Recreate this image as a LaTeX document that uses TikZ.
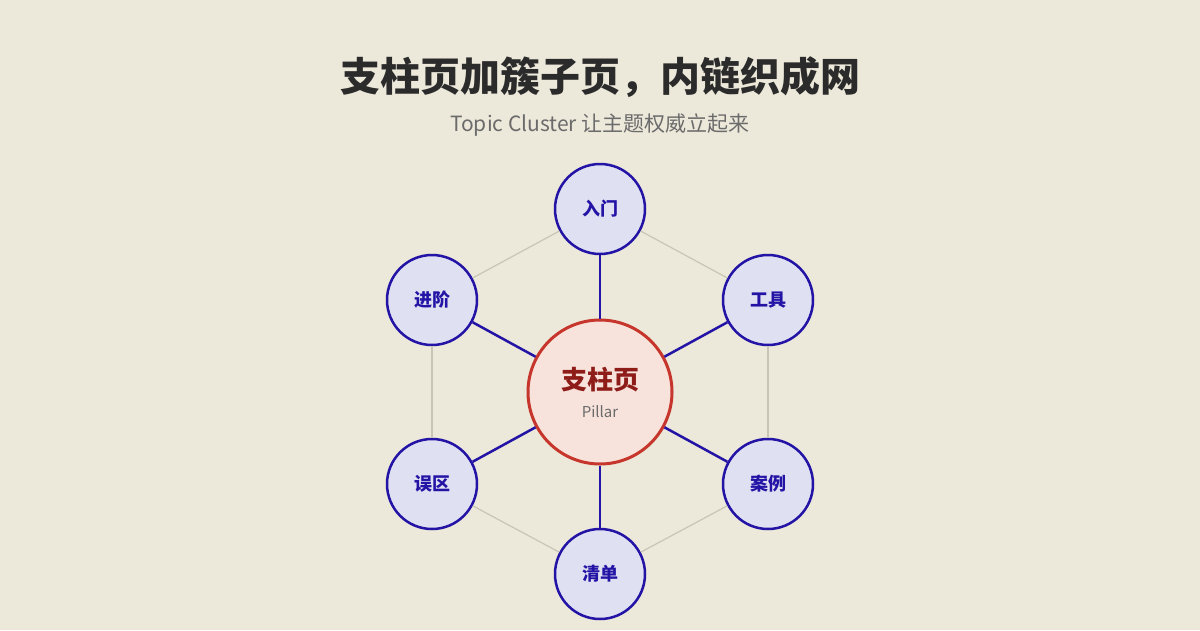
\documentclass[tikz,border=0pt]{standalone}
\usepackage{fontspec}
\setmainfont{Noto Sans CJK SC}
\definecolor{bg}{HTML}{ECE8DA}
\definecolor{ofill}{HTML}{DFE0F1}
\definecolor{ostroke}{HTML}{2314A6}
\definecolor{cfill}{HTML}{F8E3DC}
\definecolor{cstroke}{HTML}{C7362C}
\definecolor{ctext}{HTML}{8E1C18}
\definecolor{hexc}{HTML}{C9C5B6}
\definecolor{sub}{HTML}{6B6B6B}
\definecolor{ttl}{HTML}{2B2B2B}
\begin{document}
\begin{tikzpicture}[x=1pt,y=-1pt,
  outer/.style={circle,draw=ostroke,fill=ofill,line width=2.5pt,minimum size=90pt,inner sep=0pt,text=ostroke,font=\fontsize{18}{21}\selectfont\bfseries},
  spoke/.style={draw=ostroke,line width=2.5pt},
  hexl/.style={draw=hexc,line width=1.2pt}]
\fill[bg] (0,0) rectangle (1200,630);
\useasboundingbox (0,0) rectangle (1200,630);
\node[text=ttl,font=\fontsize{40}{44}\selectfont\bfseries] (title) at (600,77) {支柱页加簇子页，内链织成网};
\node[text=sub,font=\fontsize{21}{24}\selectfont] (subtitle) at (600,125) {Topic Cluster 让主题权威立起来};
\node[outer] (a) at (600,209) {入门};
\node[outer] (b) at (768,300) {工具};
\node[outer] (c) at (768,484) {案例};
\node[outer] (d) at (600,574) {清单};
\node[outer] (e) at (432,484) {误区};
\node[outer] (f) at (432,300) {进阶};
\node[circle,draw=cstroke,fill=cfill,line width=3pt,minimum size=144pt,inner sep=0pt] (p) at (600,392) {};
\node[text=ctext,font=\fontsize{26}{30}\selectfont\bfseries] (pt) at (600,380) {支柱页};
\node[text=sub,font=\fontsize{15}{18}\selectfont] (ps) at (600,412) {Pillar};
\draw[hexl] (a) -- (b); \draw[hexl] (b) -- (c); \draw[hexl] (c) -- (d);
\draw[hexl] (d) -- (e); \draw[hexl] (e) -- (f); \draw[hexl] (f) -- (a);
\foreach \n in {a,b,c,d,e,f} \draw[spoke] (p) -- (\n);
\end{tikzpicture}
\end{document}
